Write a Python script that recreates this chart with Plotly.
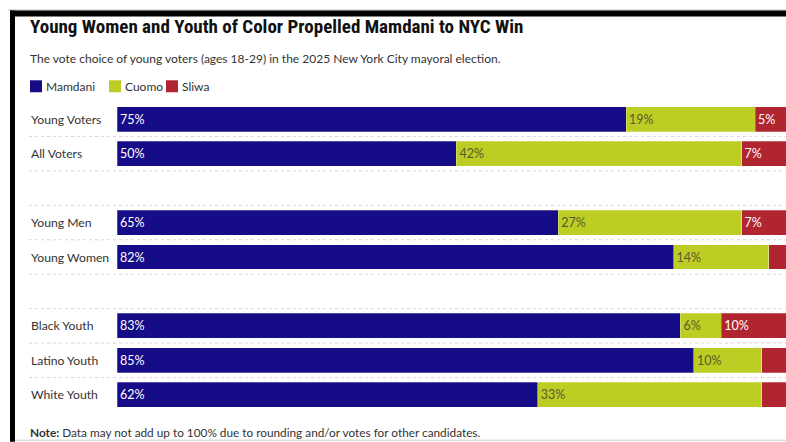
import plotly.graph_objects as go

# ---- data ----
categories = ["Young Voters", "All Voters", "Young Men", "Young Women",
              "Black Youth", "Latino Youth", "White Youth"]
spacers = {"All Voters": " ", "Young Women": "  "}  # blank rows after these
mamdani = [75, 50, 65, 82, 83, 85, 62]
cuomo = [19, 42, 27, 14, 6, 10, 33]
sliwa = [5, 7, 7, 3, 10, 4, 4]
series_names = ["Mamdani", "Cuomo", "Sliwa"]
colors = ["#170c88", "#bccd23", "#b0252f"]
text_colors = ["#ffffff", "#5a5a30", "#ffffff"]

title = "Young Women and Youth of Color Propelled Mamdani to NYC Win"
subtitle = "The vote choice of young voters (ages 18-29) in the 2025 New York City mayoral election."
note = "<b>Note:</b> Data may not add up to 100% due to rounding and/or votes for other candidates."

# ---- layout geometry ----
W, H = 786, 442
L, R, T, B = 117, 0, 101.75, 29.75
PW, PH = W - L - R, H - T - B
XMAX = PW / 6.788

def px2x(px):
    return (px - L) / PW

def py2y(py):
    return 1 - (py - T) / PH

row_order = []
for c in categories:
    row_order.append(c)
    if c in spacers:
        row_order.append(spacers[c])

FONT = "Lato, 'Open Sans', sans-serif"
TFONT = "'Roboto Condensed', 'Open Sans Condensed', sans-serif"

fig = go.Figure()
for name, vals, col, tcol in zip(series_names, [mamdani, cuomo, sliwa], colors, text_colors):
    fig.add_trace(go.Bar(
        y=categories, x=vals, name=name, orientation="h",
        marker=dict(color=col, line=dict(width=0.6, color="rgba(255,255,255,0.45)")),
        text=[f"{v}%" if v >= 5 else "" for v in vals],
        textposition="inside", insidetextanchor="start",
        insidetextfont=dict(family=FONT, size=12.5, color=tcol),
        hoverinfo="skip", showlegend=False,
    ))

shapes = []
# dotted separators between rows
for i in range(len(row_order) - 1):
    shapes.append(dict(type="line", xref="paper", yref="y",
                       x0=px2x(29), x1=px2x(786), y0=i + 0.5, y1=i + 0.5,
                       line=dict(color="#d6d6d6", width=1, dash="dot"), layer="below"))
# frame
shapes.append(dict(type="line", xref="paper", yref="paper", x0=px2x(8), x1=px2x(786),
                   y0=py2y(9.5), y1=py2y(9.5), line=dict(color="#c8c8c8", width=1)))
shapes.append(dict(type="rect", xref="paper", yref="paper", x0=px2x(10), x1=px2x(786),
                   y0=py2y(10), y1=py2y(16), fillcolor="#000000", line=dict(width=0)))
shapes.append(dict(type="rect", xref="paper", yref="paper", x0=px2x(10), x1=px2x(15),
                   y0=py2y(10), y1=py2y(442), fillcolor="#000000", line=dict(width=0)))
shapes.append(dict(type="line", xref="paper", yref="paper", x0=px2x(15), x1=px2x(786),
                   y0=py2y(440.5), y1=py2y(440.5), line=dict(color="#cccccc", width=1)))

annotations = []
# row labels
for c in categories:
    annotations.append(dict(text=c, xref="paper", yref="y", x=px2x(29), y=c,
                            xanchor="left", yanchor="middle", showarrow=False,
                            font=dict(family=FONT, size=12.2, color="#333333")))
# title, subtitle, note
annotations.append(dict(text=title, xref="paper", yref="paper", x=px2x(28), y=py2y(26),
                        xanchor="left", yanchor="middle", showarrow=False,
                        font=dict(family=TFONT, size=19, color="#111111", weight="bold")))
annotations.append(dict(text=subtitle, xref="paper", yref="paper", x=px2x(28), y=py2y(58),
                        xanchor="left", yanchor="middle", showarrow=False,
                        font=dict(family=FONT, size=12, color="#333333")))
annotations.append(dict(text=note, xref="paper", yref="paper", x=px2x(28), y=py2y(433),
                        xanchor="left", yanchor="middle", showarrow=False,
                        font=dict(family=FONT, size=11.8, color="#333333")))
# legend
legend_pos = [30, 109, 166]
for name, col, lx in zip(series_names, colors, legend_pos):
    shapes.append(dict(type="rect", xref="paper", yref="paper", x0=px2x(lx), x1=px2x(lx + 12),
                       y0=py2y(80), y1=py2y(92), fillcolor=col, line=dict(width=0)))
    annotations.append(dict(text=name, xref="paper", yref="paper", x=px2x(lx + 14), y=py2y(86),
                            xanchor="left", yanchor="middle", showarrow=False,
                            font=dict(family=FONT, size=12, color="#333333")))

fig.update_layout(
    width=W, height=H, margin=dict(l=L, r=R, t=T, b=B, pad=0),
    barmode="stack", bargap=0.275,
    paper_bgcolor="#ffffff", plot_bgcolor="#ffffff",
    xaxis=dict(range=[0, XMAX], visible=False, fixedrange=True),
    yaxis=dict(type="category", categoryorder="array", categoryarray=row_order,
               range=[len(row_order) - 0.5, -0.5], visible=False, fixedrange=True),
    shapes=shapes, annotations=annotations, showlegend=False,
)

fig.write_html("out.html", config={"displayModeBar": False},
               post_script="document.body.style.margin='0';document.body.style.overflow='hidden';")
